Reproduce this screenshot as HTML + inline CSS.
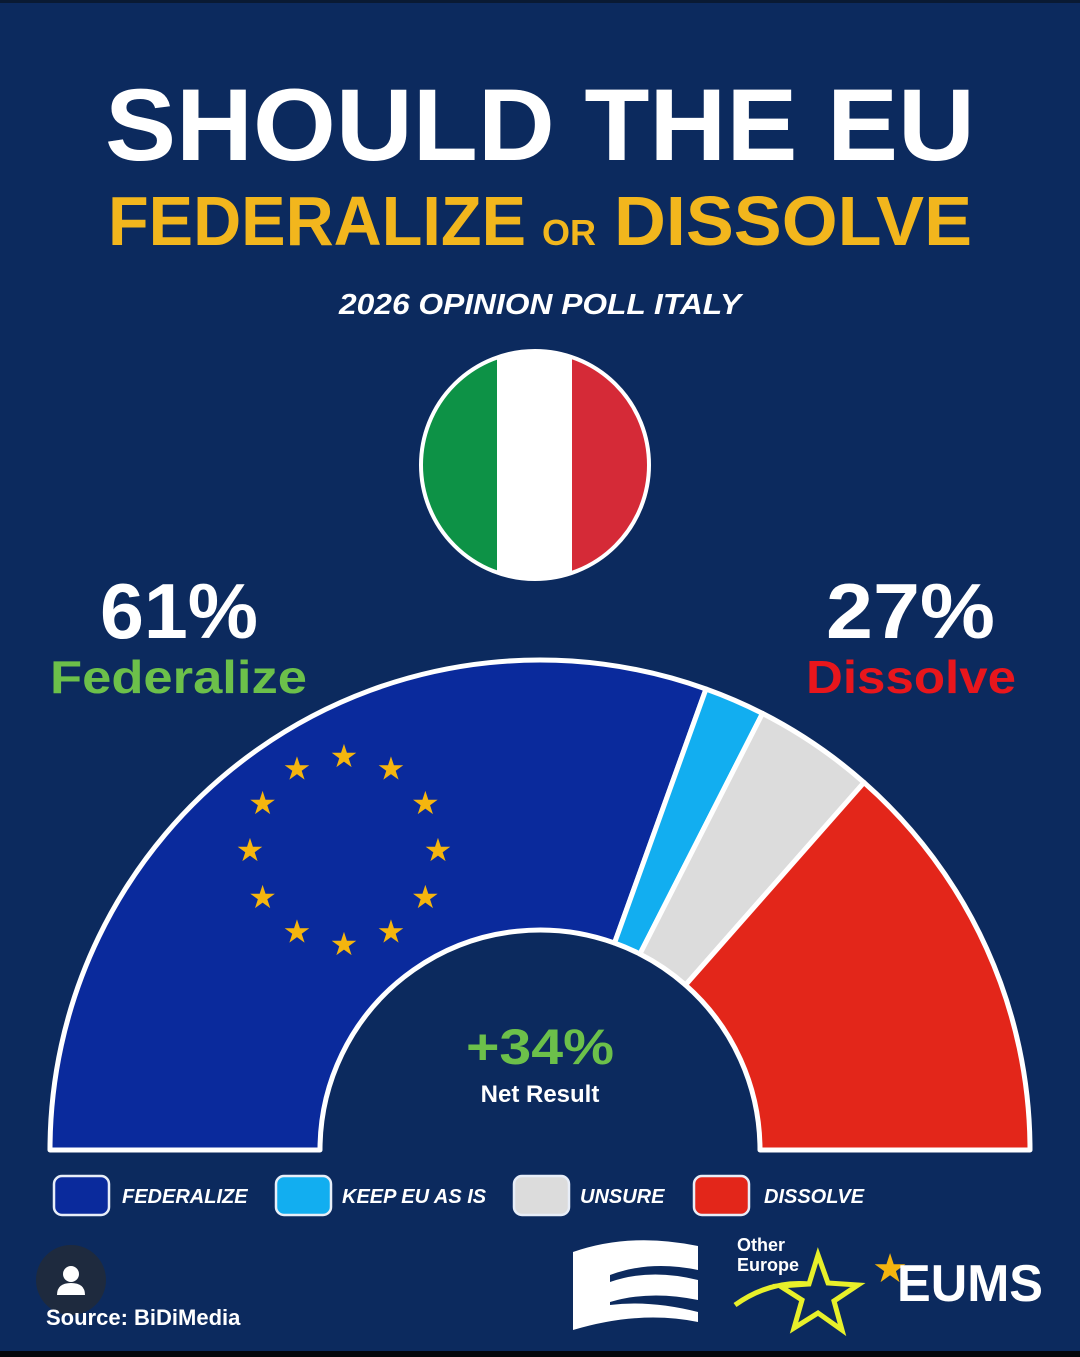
<!DOCTYPE html>
<html><head><meta charset="utf-8"><style>
html,body{margin:0;padding:0;background:#0c2a5e;}
svg{display:block}
text{font-family:"Liberation Sans","DejaVu Sans",sans-serif;font-weight:bold}
</style></head><body>
<svg width="1080" height="1357" viewBox="0 0 1080 1357" xmlns="http://www.w3.org/2000/svg">
<rect width="1080" height="1357" fill="#0c2a5e"/>
<rect y="1351" width="1080" height="6" fill="#05070c"/>
<rect width="1080" height="3" fill="#0a1a33"/>
<text x="540" y="160" text-anchor="middle" font-size="102" fill="#fff" textLength="870" lengthAdjust="spacingAndGlyphs">SHOULD THE EU</text>
<text x="108" y="245" font-size="70" fill="#f2b61d" textLength="418" lengthAdjust="spacingAndGlyphs">FEDERALIZE</text>
<text x="542" y="245" font-size="36" fill="#f2b61d">OR</text>
<text x="614" y="245" font-size="70" fill="#f2b61d" textLength="358" lengthAdjust="spacingAndGlyphs">DISSOLVE</text>
<text x="540" y="314" text-anchor="middle" font-size="29" font-style="italic" fill="#fff" textLength="402" lengthAdjust="spacingAndGlyphs">2026 OPINION POLL ITALY</text>
<defs><clipPath id="fc"><circle cx="535" cy="465" r="113"/></clipPath></defs>
<g clip-path="url(#fc)">
<rect x="420" y="350" width="78" height="230" fill="#0d9246"/>
<rect x="497" y="350" width="76" height="230" fill="#ffffff"/>
<rect x="572" y="350" width="80" height="230" fill="#d52a37"/>
</g>
<circle cx="535" cy="465" r="114" fill="none" stroke="#fff" stroke-width="4"/>
<text x="100" y="638" font-size="78" fill="#fff" textLength="158" lengthAdjust="spacingAndGlyphs">61%</text>
<text x="50" y="693" font-size="46" fill="#6cc04a" textLength="257" lengthAdjust="spacingAndGlyphs">Federalize</text>
<text x="826" y="638" font-size="78" fill="#fff" textLength="169" lengthAdjust="spacingAndGlyphs">27%</text>
<text x="806" y="693" font-size="46" fill="#e8161c" textLength="210" lengthAdjust="spacingAndGlyphs">Dissolve</text>
<g stroke="#fff" stroke-width="5" stroke-linejoin="round">
<path d="M50 1150 A490 490 0 0 1 706 689 L614.5 943 A220 220 0 0 0 320 1150 Z" fill="#0a2a9c"/>
<path d="M706 689 A490 490 0 0 1 762.5 713.4 L639.9 954 A220 220 0 0 0 614.5 943 Z" fill="#12aef0"/>
<path d="M762.5 713.4 A490 490 0 0 1 864 782.5 L685.5 985 A220 220 0 0 0 639.9 954 Z" fill="#dcdcdc"/>
<path d="M864 782.5 A490 490 0 0 1 1030 1150 L760 1150 A220 220 0 0 0 685.5 985 Z" fill="#e3261a"/>
</g>
<g font-size="32" fill="#f5b50e" text-anchor="middle" dominant-baseline="central" style="font-family:'DejaVu Sans',sans-serif">
<text x="438" y="850">★</text><text x="425.4" y="803">★</text><text x="391" y="768.6">★</text>
<text x="344" y="756">★</text><text x="297" y="768.6">★</text><text x="262.6" y="803">★</text>
<text x="250" y="850">★</text><text x="262.6" y="897">★</text><text x="297" y="931.4">★</text>
<text x="344" y="944">★</text><text x="391" y="931.4">★</text><text x="425.4" y="897">★</text>
</g>
<text x="540" y="1064" text-anchor="middle" font-size="50" fill="#6cc04a" textLength="148" lengthAdjust="spacingAndGlyphs">+34%</text>
<text x="540" y="1102" text-anchor="middle" font-size="24" fill="#fff">Net Result</text>
<g stroke="#e8eef8" stroke-width="2.5">
<rect x="54" y="1176" width="55" height="39" rx="8" fill="#0a2a9c"/>
<rect x="276" y="1176" width="55" height="39" rx="8" fill="#12aef0"/>
<rect x="514" y="1176" width="55" height="39" rx="8" fill="#dcdcdc"/>
<rect x="694" y="1176" width="55" height="39" rx="8" fill="#e3261a"/>
</g>
<g font-size="20" font-style="italic" fill="#fff">
<text x="122" y="1203">FEDERALIZE</text>
<text x="342" y="1203">KEEP EU AS IS</text>
<text x="580" y="1203">UNSURE</text>
<text x="764" y="1203">DISSOLVE</text>
</g>
<circle cx="71" cy="1280" r="35" fill="#1e2a3e"/>
<circle cx="71" cy="1274" r="8" fill="#fff"/>
<path d="M57 1295 Q57 1283 71 1283 Q85 1283 85 1295 Z" fill="#fff"/>
<text x="46" y="1325" font-size="22" fill="#fff">Source: BiDiMedia</text>
<path d="M573 1252 Q630 1232 698 1246 L698 1270 Q650 1260 610 1275 L610 1282 Q650 1268 698 1280 L698 1300 Q650 1290 610 1302 L610 1305 Q650 1300 698 1312 L698 1322 Q640 1310 573 1330 Z" fill="#fff"/>
<text x="737" y="1251" font-size="18" fill="#fff" font-weight="normal">Other</text>
<text x="737" y="1271" font-size="18" fill="#fff" font-weight="normal">Europe</text>
<path d="M818 1255 L828 1283 L858 1285 L834 1301 L842 1330 L818 1313 L794 1328 L802 1300 L780 1286 L809 1284 Z" fill="none" stroke="#e8f02a" stroke-width="5"/>
<path d="M735 1305 Q770 1280 810 1284" fill="none" stroke="#e8f02a" stroke-width="5"/>
<text x="890" y="1282" font-size="40" fill="#f5b50e" text-anchor="middle" style="font-family:'DejaVu Sans',sans-serif">★</text>
<text x="897" y="1301" font-size="52" fill="#fff" textLength="146" lengthAdjust="spacingAndGlyphs">EUMS</text>
</svg>
</body></html>
